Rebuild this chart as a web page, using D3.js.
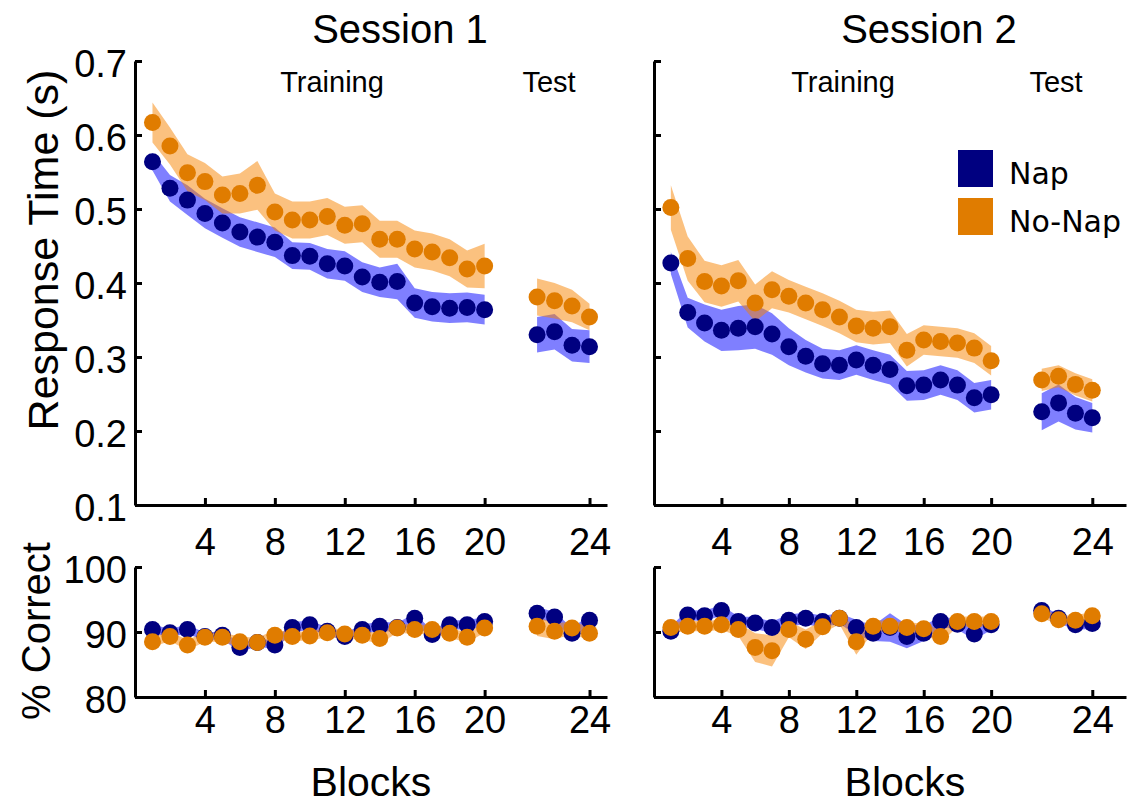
<!DOCTYPE html>
<html>
<head>
<meta charset="utf-8">
<script src="https://cdn.jsdelivr.net/npm/d3@7"></script>
<style>
  body { margin: 0; background: #fff; }
  svg { display: block; }
</style>
</head>
<body>
<div id="chart"></div>
<script>
// blocks 1-20 are training, 21-24 are test
var blocks = [1, 2, 3, 4, 5, 6, 7, 8, 9, 10, 11, 12, 13, 14, 15, 16, 17, 18, 19, 20, 21, 22, 23, 24];
var tickBlocks = [4, 8, 12, 16, 20, 24];
var rtTicks = [0.1, 0.2, 0.3, 0.4, 0.5, 0.6, 0.7];
var accTicks = [80, 90, 100];

// response time (s), session 1
var rt1Nap = [0.564, 0.528, 0.512, 0.494, 0.481, 0.469, 0.462, 0.455, 0.437, 0.436, 0.426, 0.423, 0.408, 0.401, 0.402, 0.373, 0.368, 0.366, 0.367, 0.364,
              0.330, 0.334, 0.316, 0.314];
var rt1NapSem = [0.012, 0.018, 0.02, 0.02, 0.02, 0.02, 0.02, 0.02, 0.018, 0.018, 0.02, 0.02, 0.02, 0.02, 0.024, 0.02, 0.02, 0.02, 0.02, 0.02,
                 0.024, 0.024, 0.022, 0.022];
var rt1NoNap = [0.617, 0.585, 0.549, 0.537, 0.519, 0.521, 0.532, 0.496, 0.485, 0.485, 0.49, 0.478, 0.48, 0.459, 0.459, 0.446, 0.442, 0.434, 0.419, 0.423,
                0.381, 0.376, 0.369, 0.354];
var rt1NoNapSem = [0.027, 0.025, 0.025, 0.025, 0.025, 0.027, 0.033, 0.025, 0.025, 0.025, 0.025, 0.025, 0.025, 0.025, 0.025, 0.025, 0.025, 0.025, 0.025, 0.03,
                   0.025, 0.024, 0.022, 0.018];

// response time (s), session 2
var rt2Nap = [0.427, 0.36, 0.346, 0.336, 0.339, 0.341, 0.331, 0.314, 0.301, 0.291, 0.289, 0.296, 0.289, 0.283, 0.261, 0.262, 0.269, 0.262, 0.245, 0.249,
              0.226, 0.238, 0.224, 0.218];
var rt2NapSem = [0.015, 0.02, 0.025, 0.028, 0.03, 0.03, 0.028, 0.025, 0.022, 0.02, 0.02, 0.02, 0.02, 0.02, 0.02, 0.02, 0.02, 0.02, 0.02, 0.02,
                 0.025, 0.025, 0.022, 0.02];
var rt2NoNap = [0.502, 0.433, 0.402, 0.396, 0.403, 0.373, 0.391, 0.382, 0.373, 0.364, 0.354, 0.342, 0.339, 0.341, 0.309, 0.323, 0.321, 0.319, 0.312, 0.295,
                0.269, 0.274, 0.263, 0.255];
var rt2NoNapSem = [0.03, 0.03, 0.028, 0.028, 0.028, 0.025, 0.025, 0.022, 0.022, 0.022, 0.022, 0.022, 0.022, 0.022, 0.022, 0.02, 0.02, 0.02, 0.02, 0.02,
                   0.015, 0.015, 0.015, 0.015];

// % correct, session 1
var acc1Nap = [90.4, 89.9, 90.4, 89.3, 89.5, 87.6, 88.4, 88.0, 90.7, 91.1, 90.1, 89.3, 90.4, 90.9, 90.7, 92.1, 89.6, 91.1, 91.1, 91.6,
               92.9, 92.3, 89.8, 91.8];
var acc1NapSem = [0.7, 0.6, 0.7, 0.6, 0.6, 0.7, 0.6, 0.7, 0.8, 0.7, 0.6, 0.6, 0.7, 0.7, 0.7, 0.8, 0.6, 0.7, 0.7, 0.7,
                  0.9, 0.8, 0.8, 0.8];
var acc1NoNap = [88.5, 89.3, 88.0, 89.2, 89.2, 88.5, 88.4, 89.5, 89.3, 89.4, 89.9, 89.7, 89.5, 89.0, 90.6, 90.4, 90.4, 89.8, 89.2, 90.6,
                 90.9, 90.1, 90.6, 89.8];
var acc1NoNapSem = [0.8, 0.7, 0.8, 0.7, 0.7, 0.8, 0.7, 0.8, 0.7, 0.7, 0.7, 0.7, 0.7, 0.8, 0.7, 0.7, 0.7, 0.7, 0.8, 0.7,
                    1.5, 1.2, 1.0, 1.0];

// % correct, session 2
var acc2Nap = [90.1, 92.6, 92.5, 93.3, 91.6, 91.4, 90.7, 91.8, 92.1, 91.6, 92.1, 90.7, 89.8, 90.7, 89.3, 89.8, 91.6, 91.2, 89.7, 91.1,
               93.3, 92.1, 91.1, 91.3];
var acc2NapSem = [0.8, 0.8, 0.8, 0.8, 0.8, 0.9, 0.9, 0.9, 0.9, 0.9, 0.8, 1.2, 1.2, 2.2, 1.8, 1.2, 0.8, 0.8, 0.9, 0.8,
                  0.6, 0.7, 0.8, 0.8];
var acc2NoNap = [90.7, 90.9, 90.9, 91.1, 90.4, 87.6, 87.1, 90.4, 88.9, 90.8, 92.1, 88.5, 90.9, 90.9, 90.7, 90.5, 89.3, 91.6, 91.6, 91.6,
                 92.8, 91.9, 91.8, 92.5];
var acc2NoNapSem = [0.8, 0.8, 0.8, 0.8, 1.0, 2.2, 2.4, 1.2, 1.5, 1.0, 0.9, 2.0, 0.9, 0.8, 0.8, 0.8, 1.0, 0.8, 0.8, 0.8,
                    0.7, 0.7, 0.7, 0.7];

var groups = ['Nap', 'No-Nap'];

var napDot = '#000080', noNapDot = '#e07c00';
var napBand = '#0000ff', noNapBand = '#f88400';
var font = "'Liberation Sans', Arial, sans-serif";

var width = 1135, height = 807;

var svg = d3.select('#chart').append('svg')
    .attr('width', width)
    .attr('height', height);

// test blocks sit after a gap of two blocks
function pos(b) { return b <= 20 ? b : b + 2; }

var drawPanel = function (opt) {
    var x = d3.scaleLinear().domain(opt.xDomain).range([opt.left, opt.right]);
    var y = d3.scaleLinear().domain(opt.yDomain).range([opt.bottom, opt.top]);

    var rows = function (vals, sem) {
        return blocks.map(function (b, i) { return { b: b, v: vals[i], s: sem[i] }; });
    };

    var area = d3.area()
        .x(function (d) { return x(pos(d.b)); })
        .y0(function (d) { return y(d.v - d.s); })
        .y1(function (d) { return y(d.v + d.s); });

    var series = [
        { rows: rows(opt.nap, opt.napSem), band: napBand, dot: napDot },
        { rows: rows(opt.noNap, opt.noNapSem), band: noNapBand, dot: noNapDot }
    ];

    // shaded bands, training and test drawn separately
    series.forEach(function (s) {
        [s.rows.filter(function (d) { return d.b <= 20; }),
         s.rows.filter(function (d) { return d.b > 20; })].forEach(function (part) {
            svg.append('path')
                .datum(part)
                .attr('d', area)
                .attr('fill', s.band)
                .attr('fill-opacity', 0.5);
        });
    });

    series.forEach(function (s) {
        svg.append('g').selectAll('circle')
            .data(s.rows)
            .enter().append('circle')
            .attr('cx', function (d) { return x(pos(d.b)); })
            .attr('cy', function (d) { return y(d.v); })
            .attr('r', 8.5)
            .attr('fill', s.dot);
    });

    var xAxis = d3.axisBottom(x)
        .tickValues(tickBlocks.map(pos))
        .tickSizeInner(-7)
        .tickSizeOuter(0)
        .tickPadding(opt.xPad)
        .tickFormat(function (d, i) { return tickBlocks[i]; });

    var yAxis = d3.axisLeft(y)
        .tickValues(opt.yTicks)
        .tickSizeInner(-7)
        .tickSizeOuter(0)
        .tickPadding(8)
        .tickFormat(opt.yLabels ? opt.yFormat : function () { return ''; });

    var gx = svg.append('g')
        .attr('transform', 'translate(0,' + opt.bottom + ')')
        .call(xAxis);
    var gy = svg.append('g')
        .attr('transform', 'translate(' + opt.left + ',0)')
        .call(yAxis);

    [gx, gy].forEach(function (g) {
        g.attr('font-family', font).attr('font-size', 38);
        g.select('.domain').attr('stroke-width', 3);
        g.selectAll('.tick line').attr('stroke-width', 3);
        g.selectAll('.tick text').attr('fill', '#000');
    });
    gy.selectAll('.tick text').attr('dy', '0.4em');
};

var panels = [
    { left: 135, right: 607, xDomain: [0, 27], top: 61, bottom: 505, yDomain: [0.1, 0.7], yTicks: rtTicks,
      yLabels: true, yFormat: d3.format('.1f'), xPad: 23,
      nap: rt1Nap, napSem: rt1NapSem, noNap: rt1NoNap, noNapSem: rt1NoNapSem },
    { left: 654, right: 1126, xDomain: [0, 28], top: 61, bottom: 505, yDomain: [0.1, 0.7], yTicks: rtTicks,
      yLabels: false, xPad: 23,
      nap: rt2Nap, napSem: rt2NapSem, noNap: rt2NoNap, noNapSem: rt2NoNapSem },
    { left: 135, right: 607, xDomain: [0, 27], top: 567, bottom: 697, yDomain: [80, 100], yTicks: accTicks,
      yLabels: true, yFormat: d3.format('d'), xPad: 9,
      nap: acc1Nap, napSem: acc1NapSem, noNap: acc1NoNap, noNapSem: acc1NoNapSem },
    { left: 654, right: 1126, xDomain: [0, 28], top: 567, bottom: 697, yDomain: [80, 100], yTicks: accTicks,
      yLabels: false, xPad: 9,
      nap: acc2Nap, napSem: acc2NapSem, noNap: acc2NoNap, noNapSem: acc2NoNapSem }
];

panels.forEach(drawPanel);

// titles and phase labels
var addText = function (txt, x, y, size, anchor, rot) {
    var t = svg.append('text')
        .attr('font-family', font)
        .attr('font-size', size)
        .attr('text-anchor', anchor || 'middle')
        .attr('fill', '#000')
        .text(txt);
    if (rot) {
        t.attr('transform', 'translate(' + x + ',' + y + ') rotate(-90)');
    } else {
        t.attr('x', x).attr('y', y);
    }
    return t;
};

addText('Session 1', 400, 43, 40);
addText('Session 2', 929, 43, 40);
addText('Training', 332, 92, 29);
addText('Test', 549, 92, 29);
addText('Training', 843, 92, 29);
addText('Test', 1056, 92, 29);
addText('Response Time (s)', 58, 250, 43, 'middle', true);
addText('% Correct', 50, 631, 40, 'middle', true);
addText('Blocks', 371, 796, 41);
addText('Blocks', 905, 796, 41);

// legend
var legend = svg.append('g');
legend.selectAll('rect')
    .data(groups)
    .enter().append('rect')
    .attr('x', 958)
    .attr('y', function (d, i) { return 150 + i * 48; })
    .attr('width', 35)
    .attr('height', 37)
    .attr('fill', function (d, i) { return i === 0 ? napDot : noNapDot; });
legend.selectAll('text')
    .data(groups)
    .enter().append('text')
    .attr('x', 1009)
    .attr('y', function (d, i) { return 184 + i * 48; })
    .attr('font-family', "'DejaVu Sans', sans-serif")
    .attr('font-size', 30)
    .attr('fill', '#000')
    .text(function (d) { return d; });
</script>
</body>
</html>
